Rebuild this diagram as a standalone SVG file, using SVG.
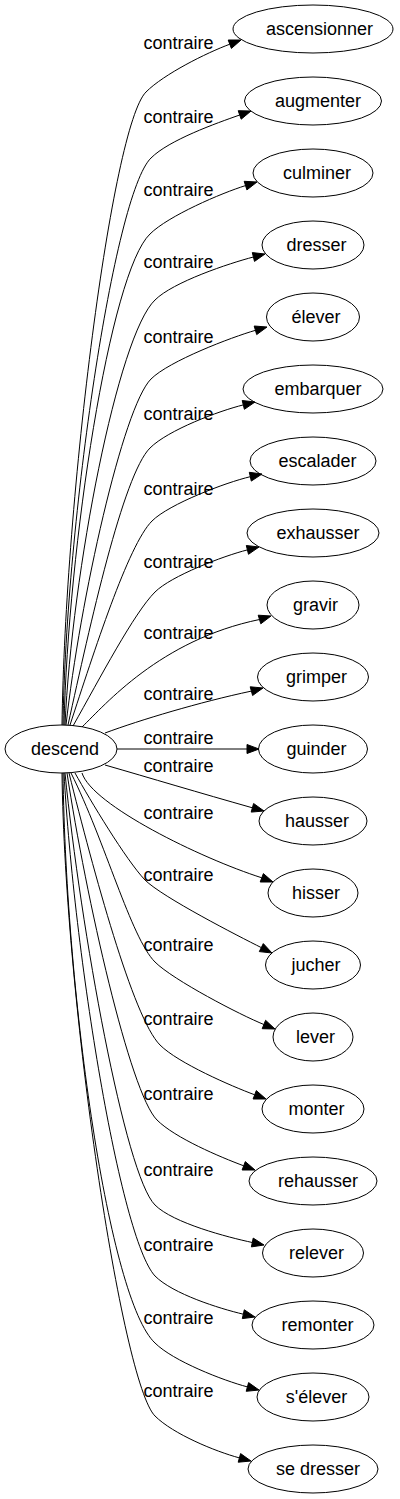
<svg xmlns="http://www.w3.org/2000/svg" width="400" height="1499" viewBox="0 0 400 1499">
<style>
text{font-family:"Liberation Sans",Arial,sans-serif;font-size:18px;fill:#000;text-anchor:middle}
ellipse{fill:none;stroke:#000;stroke-width:1}
.e path{fill:none;stroke:#000;stroke-width:1}
.e polygon{fill:#000;stroke:#000;stroke-width:1}
</style>
<rect width="400" height="1499" fill="#fff"/>
<g id="edges" class="e">
<path d="M62,725 C65,497 112,126 146,92 C164,74 206.4,52.9 229.8,44.2"/><polygon points="241,40 231.4,48.4 228.2,40"/>
<path d="M63,725 C66,521 114,194 151,158 C169,140 216.1,123.3 239.7,115"/><polygon points="251,111 241.2,119.2 238.2,110.7"/>
<path d="M64,725 C68,548 110,272 150,234 C168,216 221.6,193 245.5,185.6"/><polygon points="257,182 246.9,189.9 244.2,181.3"/>
<path d="M65,725 C72,572 118,335 155,300 C173,282 229.2,263.3 253.4,257"/><polygon points="265,254 254.5,261.4 252.3,252.6"/>
<path d="M66,725 C80,600 123,407 151,379 C169,361 231.5,337.2 255.5,330.3"/><polygon points="267,327 256.7,334.6 254.2,326"/>
<path d="M68,725 C90,625 123,475 150,448 C168,430 219,410.9 243.3,404.9"/><polygon points="255,402 244.4,409.3 242.2,400.5"/>
<path d="M70,725 C94,652 128,545 152,521 C169,504 225.9,482.4 250.3,476.7"/><polygon points="262,474 251.3,481.1 249.3,472.3"/>
<path d="M73,726 C100,678 134,613 155,592 C171,576 223.1,556 247.4,549.9"/><polygon points="259,547 248.5,554.3 246.3,545.5"/>
<path d="M82,727 C105,705 160,640 259.5,619.5"/><polygon points="271,616 260.8,623.8 258.2,615.2"/>
<path d="M105,733 C140,720 200,702 251.4,691.1"/><polygon points="263,688 252.6,695.5 250.2,686.8"/>
<path d="M117,749 L247,749"/><polygon points="259,749 247,753.5 247,744.5"/>
<path d="M105,765 C150,778 200,793 252.4,807.8"/><polygon points="264,811 251.2,812.1 253.6,803.5"/>
<path d="M82,773 C92,805 200,858 261.8,877.8"/><polygon points="273,882 260.2,882 263.4,873.6"/>
<path d="M75,773 C90,800 126,860 145,880 C162,897 238.9,936.4 261.3,947.6"/><polygon points="272,953 259.3,951.6 263.3,943.6"/>
<path d="M71,773 C105,841 131,938 155,962 C173,980 240.7,1015.2 263.9,1024.5"/><polygon points="275,1029 262.2,1028.7 265.6,1020.3"/>
<path d="M69,773 C93.5,871 133,1018 160,1045 C178,1063 231.3,1086.1 254.7,1094.8"/><polygon points="266,1099 253.1,1099 256.3,1090.6"/>
<path d="M67,773 C86,898 130,1093 157,1120 C175,1138 220.3,1157.1 243.7,1165.8"/><polygon points="255,1170 242.1,1170 245.3,1161.6"/>
<path d="M65,773 C80.6,929 125,1175 155,1205 C173,1223 227.8,1237.3 252.3,1242.5"/><polygon points="264,1245 251.4,1246.9 253.2,1238.1"/>
<path d="M64,773 C74,954 120,1238 155,1276 C173,1294 219,1308.4 243.3,1314.2"/><polygon points="255,1317 242.3,1318.6 244.3,1309.8"/>
<path d="M63,773 C66,1000 109,1300 155,1343 C173,1361 223.2,1380.5 247.4,1386.9"/><polygon points="259,1390 246.2,1391.3 248.6,1382.6"/>
<path d="M62,773 C65,1004 122,1383 155,1416 C173,1434 215.3,1451.4 239.4,1457.9"/><polygon points="251,1461 238.2,1462.2 240.6,1453.6"/>
<g id="edge-labels">
<text x="178.5" y="49">contraire</text>
<text x="178.5" y="123">contraire</text>
<text x="178.5" y="196">contraire</text>
<text x="178.5" y="268">contraire</text>
<text x="178.5" y="343">contraire</text>
<text x="178.5" y="420">contraire</text>
<text x="178.5" y="495">contraire</text>
<text x="178.5" y="568">contraire</text>
<text x="178.5" y="639">contraire</text>
<text x="178.5" y="700">contraire</text>
<text x="178.5" y="744">contraire</text>
<text x="178.5" y="772">contraire</text>
<text x="178.5" y="819">contraire</text>
<text x="178.5" y="881">contraire</text>
<text x="178.5" y="951">contraire</text>
<text x="178.5" y="1025">contraire</text>
<text x="178.5" y="1100">contraire</text>
<text x="178.5" y="1176">contraire</text>
<text x="178.5" y="1251">contraire</text>
<text x="178.5" y="1324">contraire</text>
<text x="178.5" y="1397">contraire</text>
</g>
</g>
<g id="descend"><ellipse cx="61" cy="749" rx="56" ry="24"/><text x="65" y="755">descend</text></g>
<g id="ascensionner"><ellipse cx="313" cy="29" rx="80" ry="24"/><text x="319.5" y="35">ascensionner</text></g>
<g id="augmenter"><ellipse cx="313" cy="101" rx="68.5" ry="24"/><text x="318" y="107">augmenter</text></g>
<g id="culminer"><ellipse cx="313" cy="173" rx="60" ry="24"/><text x="317" y="179">culminer</text></g>
<g id="dresser"><ellipse cx="313" cy="245" rx="51" ry="24"/><text x="316.5" y="251">dresser</text></g>
<g id="elever"><ellipse cx="313" cy="317" rx="46.5" ry="24"/><text x="316" y="323">élever</text></g>
<g id="embarquer"><ellipse cx="313" cy="389" rx="70" ry="24"/><text x="318" y="395">embarquer</text></g>
<g id="escalader"><ellipse cx="313" cy="461" rx="63" ry="24"/><text x="317.5" y="467">escalader</text></g>
<g id="exhausser"><ellipse cx="313" cy="533" rx="66" ry="24"/><text x="318" y="539">exhausser</text></g>
<g id="gravir"><ellipse cx="313" cy="605" rx="46" ry="24"/><text x="315.5" y="611">gravir</text></g>
<g id="grimper"><ellipse cx="313" cy="677" rx="55.5" ry="24"/><text x="316.5" y="683">grimper</text></g>
<g id="guinder"><ellipse cx="313" cy="749" rx="54.5" ry="24"/><text x="316.5" y="755">guinder</text></g>
<g id="hausser"><ellipse cx="313" cy="821" rx="54" ry="24"/><text x="317" y="827">hausser</text></g>
<g id="hisser"><ellipse cx="313" cy="893" rx="45" ry="24"/><text x="316" y="899">hisser</text></g>
<g id="jucher"><ellipse cx="313" cy="965" rx="47.5" ry="24"/><text x="316" y="971">jucher</text></g>
<g id="lever"><ellipse cx="313" cy="1037" rx="40" ry="24"/><text x="315.5" y="1043">lever</text></g>
<g id="monter"><ellipse cx="313" cy="1109" rx="51" ry="24"/><text x="316.5" y="1115">monter</text></g>
<g id="rehausser"><ellipse cx="313" cy="1181" rx="64" ry="24"/><text x="318" y="1187">rehausser</text></g>
<g id="relever"><ellipse cx="313" cy="1253" rx="50.5" ry="24"/><text x="316.5" y="1259">relever</text></g>
<g id="remonter"><ellipse cx="313" cy="1325" rx="61" ry="24"/><text x="317.5" y="1331">remonter</text></g>
<g id="s-elever"><ellipse cx="313" cy="1397" rx="56" ry="24"/><text x="316.5" y="1403">s'élever</text></g>
<g id="se-dresser"><ellipse cx="313" cy="1469" rx="65" ry="24"/><text x="318" y="1475">se dresser</text></g>
</svg>
